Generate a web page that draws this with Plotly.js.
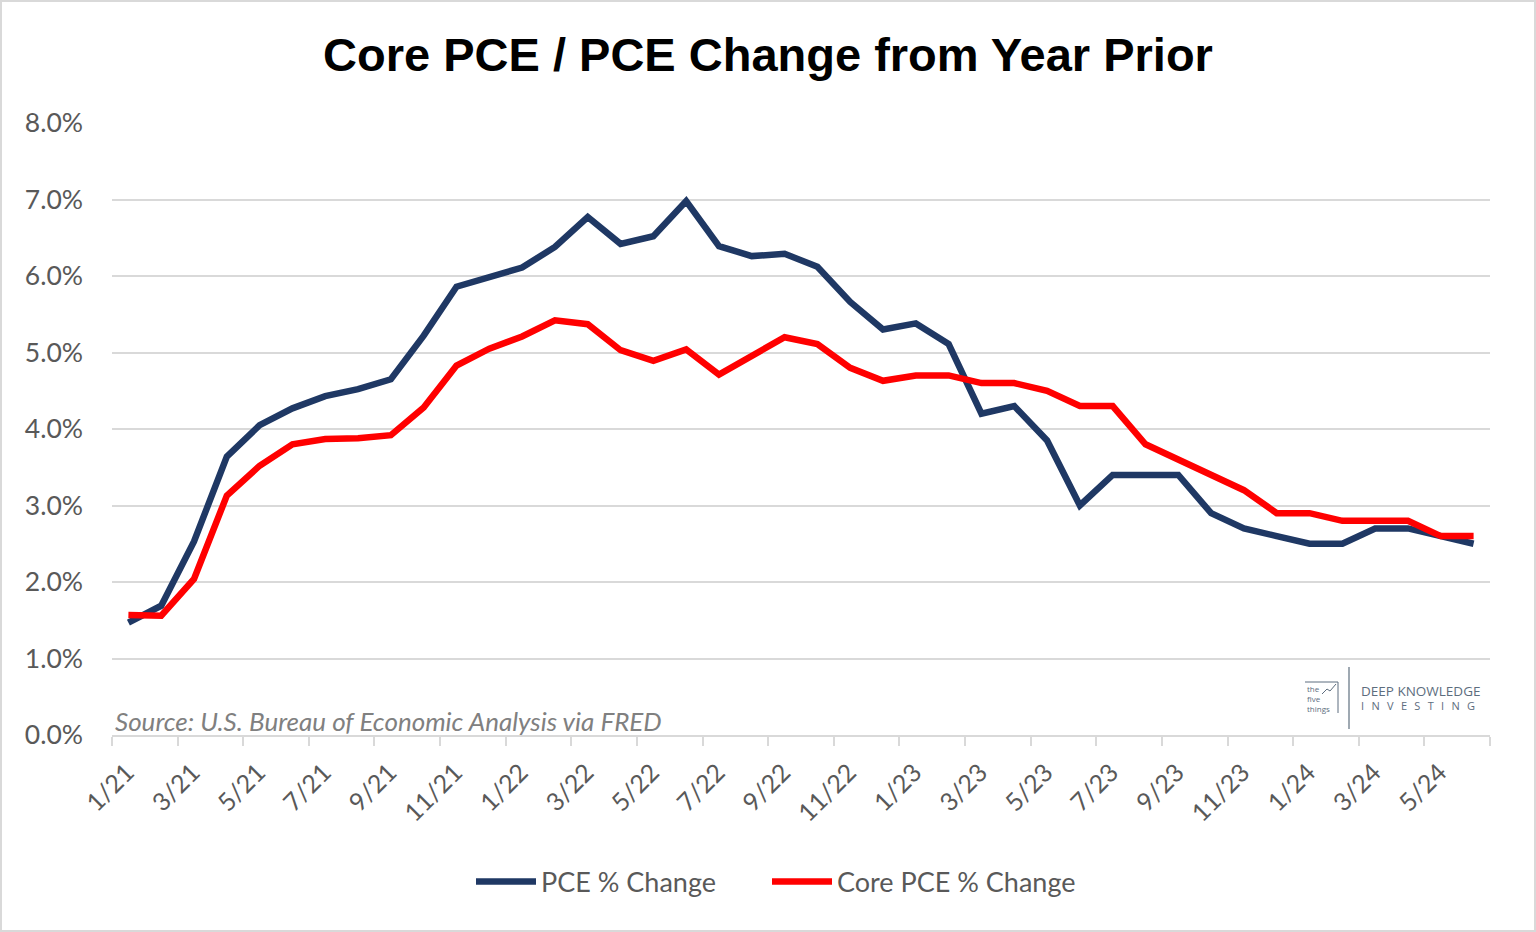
<!DOCTYPE html>
<html>
<head>
<meta charset="utf-8">
<script src="https://cdn.plot.ly/plotly-3.0.1.min.js"></script>
<style>
  html, body { margin: 0; padding: 0; background: #ffffff; }
  #wrap { position: relative; width: 1536px; height: 932px; }
  #chart { width: 1536px; height: 932px; }
  #frame { position: absolute; left: 0; top: 0; right: 0; bottom: 0; border: 2px solid #d9d9d9; pointer-events: none; }
</style>
</head>
<body>
<div id="wrap"><div id="chart"></div><div id="frame"></div></div>
<script>
// Monthly year-over-year change, Jan 2021 - Jun 2024 (percent)
const months = [
  '1/21','2/21','3/21','4/21','5/21','6/21','7/21','8/21','9/21','10/21','11/21','12/21',
  '1/22','2/22','3/22','4/22','5/22','6/22','7/22','8/22','9/22','10/22','11/22','12/22',
  '1/23','2/23','3/23','4/23','5/23','6/23','7/23','8/23','9/23','10/23','11/23','12/23',
  '1/24','2/24','3/24','4/24','5/24','6/24'
];

const pceChange = [
  1.47, 1.69, 2.53, 3.64, 4.05, 4.27, 4.43, 4.52, 4.65, 5.22, 5.86, 5.98,
  6.11, 6.38, 6.77, 6.42, 6.52, 6.98, 6.39, 6.26, 6.29, 6.12, 5.66, 5.30,
  5.38, 5.11, 4.20, 4.30, 3.85, 3.00, 3.40, 3.40, 3.40, 2.90, 2.70, 2.60,
  2.50, 2.50, 2.70, 2.70, 2.60, 2.50
];

const corePceChange = [
  1.57, 1.56, 2.04, 3.13, 3.52, 3.80, 3.87, 3.88, 3.92, 4.28, 4.83, 5.05,
  5.21, 5.42, 5.37, 5.03, 4.89, 5.04, 4.71, 4.95, 5.20, 5.11, 4.80, 4.63,
  4.70, 4.70, 4.60, 4.60, 4.50, 4.30, 4.30, 3.80, 3.60, 3.40, 3.20, 2.90,
  2.90, 2.80, 2.80, 2.80, 2.60, 2.60
];

// Every other month is labelled on the axis
const tickLabels = [
  '1/21','3/21','5/21','7/21','9/21','11/21',
  '1/22','3/22','5/22','7/22','9/22','11/22',
  '1/23','3/23','5/23','7/23','9/23','11/23',
  '1/24','3/24','5/24'
];

const yTicks = [0, 1, 2, 3, 4, 5, 6, 7, 8];

const seriesNames = ['PCE % Change', 'Core PCE % Change'];
const titleText = 'Core PCE / PCE Change from Year Prior';
const sourceText = 'Source: U.S. Bureau of Economic Analysis via FRED';
const logoLeft = ['the', 'five', 'things'];
const logoRight = ['DEEP KNOWLEDGE', 'INVESTING'];

// Month index positions on a linear axis; tick marks sit between months
const xIdx = months.map((m, i) => i);
const tickPos = tickLabels.map((t, k) => 2 * k - 0.5).concat([months.length - 0.5]);
const tickText = tickLabels.concat(['']);

const labelFont = 'Lato, "Open Sans", sans-serif';
const grey = '#595959';
const gridGrey = '#d9d9d9';
const logoColor = '#5d6d7e';

// pixel -> paper helpers for the small brand block in the corner
const px = v => (v - 112) / 1378;
const py = v => (735 - v) / 612;

const traces = [
  {
    x: xIdx, y: pceChange, text: months, name: seriesNames[0],
    type: 'scatter', mode: 'lines', legend: 'legend',
    line: { color: '#1f3864', width: 6.5 },
    hoverinfo: 'skip'
  },
  {
    x: xIdx, y: corePceChange, text: months, name: seriesNames[1],
    type: 'scatter', mode: 'lines', legend: 'legend2',
    line: { color: '#ff0000', width: 6.5 },
    hoverinfo: 'skip'
  }
];

const spaced = s => s.split('').join('\u2002\u2009');

// one legend box per series so the two entries sit apart like a spreadsheet key
const legendStyle = (left) => ({
  orientation: 'h',
  x: left / 1536, xref: 'container', xanchor: 'left',
  y: 1 - 882 / 932, yref: 'container', yanchor: 'middle',
  font: { family: labelFont, size: 27, color: grey },
  itemwidth: 60,
  bgcolor: 'rgba(0,0,0,0)'
});

const layout = {
  width: 1536,
  height: 932,
  paper_bgcolor: '#ffffff',
  plot_bgcolor: '#ffffff',
  margin: { l: 112, r: 46, t: 123, b: 197 },
  showlegend: true,
  title: {
    text: titleText,
    font: { family: '"Liberation Sans", Arial, sans-serif', size: 47, color: '#000000', weight: 'bold' },
    x: 0.5, xref: 'container', xanchor: 'center',
    y: 0.942, yref: 'container', yanchor: 'middle'
  },
  xaxis: {
    type: 'linear',
    range: [-0.5, months.length - 0.5],
    tickmode: 'array',
    tickvals: tickPos,
    ticktext: tickText,
    tickangle: -45,
    ticks: 'outside',
    ticklen: 9,
    tickwidth: 2,
    tickcolor: gridGrey,
    ticklabelshift: 15,
    ticklabelstandoff: 2,
    tickfont: { family: labelFont, size: 25, color: grey },
    showgrid: false,
    zeroline: false,
    showline: true,
    linecolor: gridGrey,
    linewidth: 2,
    fixedrange: true
  },
  yaxis: {
    range: [0, 8],
    tickmode: 'array',
    tickvals: yTicks,
    ticktext: yTicks.map(v => v.toFixed(1) + '%'),
    ticks: '',
    ticklabelstandoff: 28,
    tickfont: { family: labelFont, size: 26.5, color: grey },
    showgrid: true,
    gridcolor: gridGrey,
    gridwidth: 2,
    zeroline: false,
    showline: false,
    fixedrange: true
  },
  legend: legendStyle(471),
  legend2: legendStyle(767),
  annotations: [
    {
      text: sourceText,
      xref: 'paper', yref: 'paper',
      x: px(113), y: py(721), xanchor: 'left', yanchor: 'middle',
      showarrow: false,
      font: { family: labelFont, size: 26, color: '#808080', style: 'italic' }
    },
    {
      text: '<span style="font-size:13.5px">' + logoRight[0] + '</span><br>' +
            '<span style="font-size:11px">' + spaced(logoRight[1]) + '</span>',
      xref: 'paper', yref: 'paper',
      x: px(1359), y: py(697), xanchor: 'left', yanchor: 'middle',
      align: 'left',
      showarrow: false,
      font: { family: '"Open Sans", sans-serif', size: 10.5, color: logoColor }
    },
    {
      text: logoLeft.map(w => '<span style="font-size:8px">' + w + '</span>').join('<br>'),
      xref: 'paper', yref: 'paper',
      x: px(1305), y: py(698), xanchor: 'left', yanchor: 'middle',
      align: 'left',
      showarrow: false,
      font: { family: '"Open Sans", sans-serif', size: 7.5, color: logoColor }
    }
  ],
  shapes: [
    {
      type: 'line', xref: 'paper', yref: 'paper',
      x0: px(1349), x1: px(1349), y0: py(729), y1: py(667),
      line: { color: '#7f8c99', width: 1.5 }
    },
    {
      type: 'path', xref: 'paper', yref: 'paper',
      path: 'M' + px(1305) + ',' + py(682) + ' L' + px(1338) + ',' + py(682) +
            ' L' + px(1338) + ',' + py(713),
      line: { color: logoColor, width: 1 }
    },
    {
      type: 'path', xref: 'paper', yref: 'paper',
      path: 'M' + px(1322) + ',' + py(694) + ' L' + px(1327) + ',' + py(689) +
            ' L' + px(1330) + ',' + py(691) + ' L' + px(1336) + ',' + py(684),
      line: { color: logoColor, width: 1 }
    }
  ]
};

Plotly.newPlot('chart', traces, layout, { displayModeBar: false, staticPlot: true });
</script>
</body>
</html>
